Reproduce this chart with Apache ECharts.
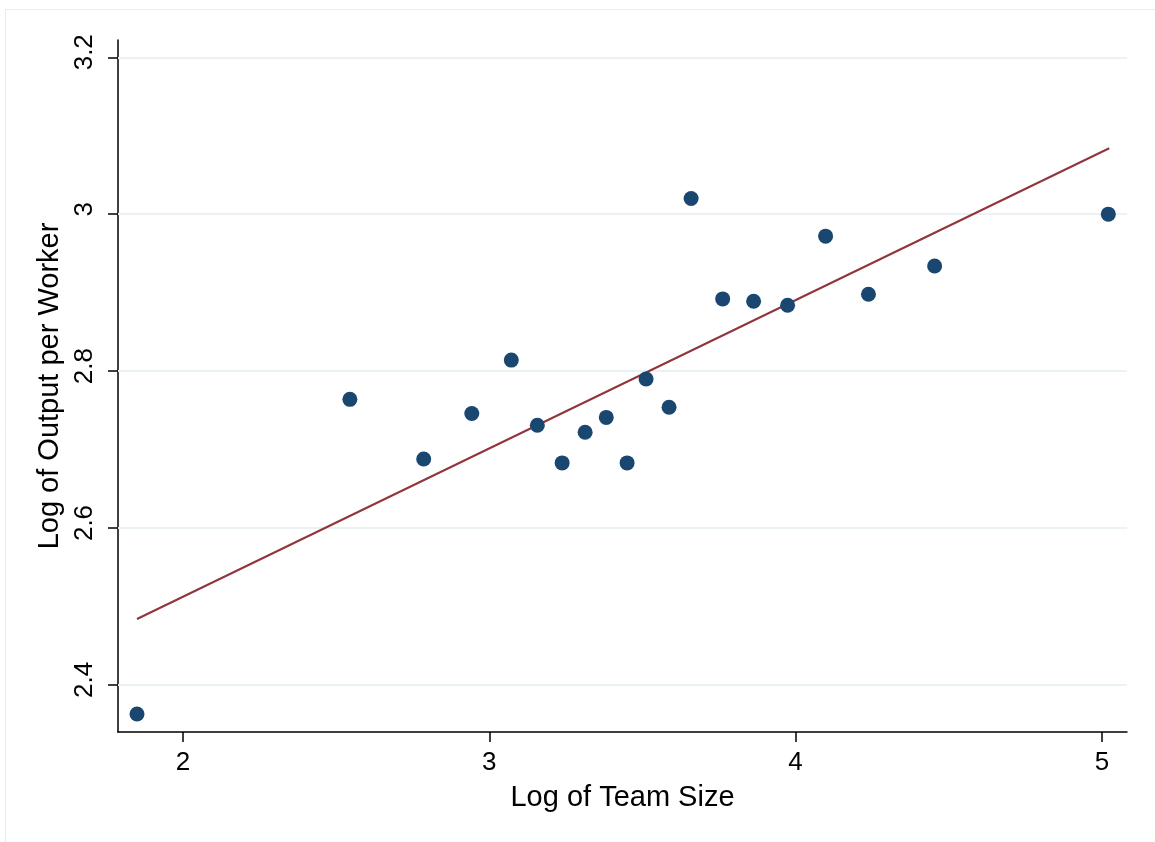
<!DOCTYPE html>
<html>
<head>
<meta charset="utf-8">
<script src="https://cdn.jsdelivr.net/npm/echarts@6/dist/echarts.min.js"></script>
<style>
html,body{margin:0;padding:0;background:#fff;}
#chart{width:1155px;height:842px;}
</style>
</head>
<body>
<div id="chart"></div>
<script>
// Data
const logTeamSize = [1.850, 2.545, 2.786, 2.943, 3.072, 3.157, 3.238, 3.313, 3.382, 3.450, 3.512, 3.587, 3.659, 3.762, 3.863, 3.974, 4.098, 4.238, 4.454, 5.021];
const logOutputPerWorker = [2.363, 2.764, 2.688, 2.746, 2.814, 2.731, 2.683, 2.722, 2.741, 2.683, 2.790, 2.754, 3.020, 2.892, 2.889, 2.884, 2.972, 2.898, 2.934, 3.000];
const fitX = [1.850, 5.024];
const fitY = [2.484, 3.084];
const xTicks = [2, 3, 4, 5];
const yTicks = [2.4, 2.6, 2.8, 3, 3.2];
const xTitle = 'Log of Team Size';
const yTitle = 'Log of Output per Worker';

const FONT = '"Liberation Sans", Arial, Helvetica, sans-serif';
const chart = echarts.init(document.getElementById('chart'));

const scatterData = logTeamSize.map((x, i) => [x, logOutputPerWorker[i]]);
const fitData = fitX.map((x, i) => [x, fitY[i]]);

chart.setOption({
  animation: false,
  backgroundColor: '#ffffff',
  graphic: [{
    type: 'rect',
    shape: { x: 5.5, y: 9.5, width: 1300, height: 1000 },
    style: { fill: 'none', stroke: '#e6eef0', lineWidth: 1 },
    silent: true, z: -10
  }],
  grid: { left: 118, right: 28, top: 40, bottom: 110, containLabel: false },
  xAxis: {
    type: 'value',
    min: 1.788, max: 5.082,
    name: xTitle,
    nameLocation: 'middle',
    nameGap: 51,
    nameTextStyle: { fontFamily: FONT, fontSize: 29, color: '#000' },
    axisLine: { show: true, onZero: false, lineStyle: { color: '#000', width: 1.5 } },
    axisTick: { show: true, length: 10, customValues: xTicks, lineStyle: { color: '#000', width: 1.5 } },
    axisLabel: { customValues: xTicks, margin: 18, fontFamily: FONT, fontSize: 26, color: '#000' },
    splitLine: { show: false }
  },
  yAxis: {
    type: 'value',
    min: 2.34, max: 3.222,
    name: yTitle,
    nameLocation: 'middle',
    nameGap: 44,
    nameTextStyle: { fontFamily: FONT, fontSize: 29, color: '#000' },
    axisLine: { show: true, onZero: false, lineStyle: { color: '#000', width: 1.5 } },
    axisTick: { show: true, length: 10, customValues: yTicks, lineStyle: { color: '#000', width: 1.5 } },
    axisLabel: { customValues: yTicks, rotate: 90, margin: 20, padding: [0, 0, 0, 10], fontFamily: FONT, fontSize: 26, color: '#000' },
    splitLine: { show: false }
  },
  series: [
    {
      type: 'line',
      data: fitData,
      showSymbol: false,
      symbol: 'none',
      lineStyle: { color: '#90353b', width: 2 },
      z: 3,
      silent: true,
      markLine: {
        silent: true,
        symbol: ['none', 'none'],
        label: { show: false },
        lineStyle: { color: '#eaf2f3', width: 2, type: 'solid' },
        data: yTicks.map(v => ({ yAxis: v })),
        z: 1
      }
    },
    {
      type: 'scatter',
      data: scatterData,
      symbol: 'circle',
      symbolSize: 15,
      itemStyle: { color: '#1a476f', opacity: 1 },
      z: 4
    }
  ]
});
</script>
</body>
</html>
